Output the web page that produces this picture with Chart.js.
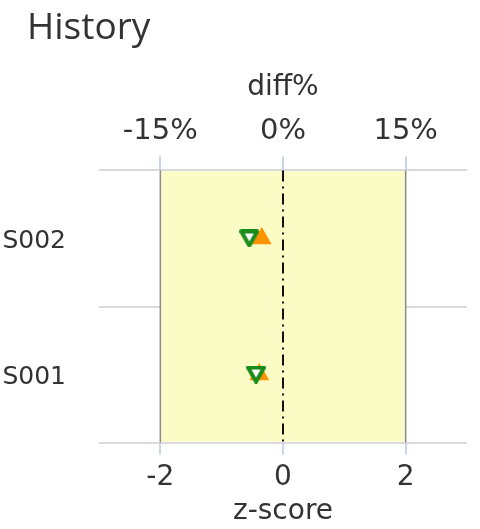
<!DOCTYPE html>
<html>
<head>
<meta charset="utf-8">
<script src="https://cdn.jsdelivr.net/npm/chart.js@4/dist/chart.umd.min.js"></script>
<style>
  html, body { margin: 0; padding: 0; background: #fff; }
  #wrap { position: relative; width: 480px; height: 529px; }
  #title { position: absolute; left: 27px; top: 0px; font-family: 'Open Sans', sans-serif; font-size: 37px; color: #333; line-height: 50px; }
  canvas { position: absolute; left: 0; top: 0; }
</style>
</head>
<body>
<div id="wrap">
  <canvas id="c" width="480" height="529"></canvas>
  <div id="title">History</div>
</div>
<script>
const categories = ['S002', 'S001'];
const zScores = [-0.55, -0.44];       // green open down-triangles (bottom axis)
const diffPct = [-2.6, -2.9];         // orange up-triangles (top axis, %)
const zTicks = [-2, 0, 2];
const pctTicks = [-15, 0, 15];
const zRange = [-3, 3];
const pctRange = [-22.5, 22.5];
const bandRange = [-2, 2];

const FONT = "'DejaVu Sans', sans-serif";

// marker image: open down-triangle, centred on its bounding box
function downTriangle() {
  const cv = document.createElement('canvas');
  cv.width = 20; cv.height = 18;
  const g = cv.getContext('2d');
  g.beginPath();
  g.moveTo(2, 2); g.lineTo(18, 2); g.lineTo(10, 16); g.closePath();
  g.fillStyle = '#ffffff'; g.fill();
  g.lineWidth = 4; g.lineJoin = 'round'; g.strokeStyle = '#1a8c1a'; g.stroke();
  return cv;
}

const bandPlugin = {
  id: 'band',
  beforeDatasetsDraw(chart) {
    const { ctx, chartArea, scales } = chart;
    const x = scales.x;
    const x0 = x.getPixelForValue(bandRange[0]);
    const x1 = x.getPixelForValue(bandRange[1]);
    ctx.save();
    ctx.fillStyle = '#fbfcc5';
    ctx.fillRect(x0, chartArea.top + 1, x1 - x0, chartArea.bottom - chartArea.top - 2);
    ctx.strokeStyle = '#8a8a8a';
    ctx.lineWidth = 1.5;
    ctx.beginPath();
    ctx.moveTo(x0, chartArea.top); ctx.lineTo(x0, chartArea.bottom);
    ctx.moveTo(x1, chartArea.top); ctx.lineTo(x1, chartArea.bottom);
    ctx.stroke();
    const xz = x.getPixelForValue(0);
    ctx.strokeStyle = '#111';
    ctx.lineWidth = 2;
    ctx.setLineDash([11, 5, 2, 5]);
    ctx.beginPath();
    ctx.moveTo(xz, chartArea.top); ctx.lineTo(xz, chartArea.bottom);
    ctx.stroke();
    ctx.restore();
  }
};

new Chart(document.getElementById('c'), {
  type: 'scatter',
  data: {
    labels: categories,
    datasets: [
      {
        label: 'z-score',
        data: categories.map((c, i) => ({ x: zScores[i], y: c })),
        xAxisID: 'x',
        yAxisID: 'y',
        pointStyle: downTriangle(),
        pointRadius: 9
      },
      {
        label: 'diff%',
        data: categories.map((c, i) => ({ x: diffPct[i], y: c })),
        xAxisID: 'x2',
        yAxisID: 'y',
        pointStyle: 'triangle',
        pointRadius: 11.5,
        backgroundColor: '#ff9200',
        borderColor: '#ff9200',
        borderWidth: 0
      }
    ]
  },
  options: {
    responsive: false,
    animation: false,
    layout: { padding: { top: 71, right: 13, left: 0, bottom: 6 } },
    plugins: { legend: { display: false }, tooltip: { enabled: false } },
    scales: {
      y: {
        type: 'category',
        labels: categories,
        offset: true,
        afterFit(scale) { scale.width = 99; },
        grid: { offset: true, color: '#dadada', lineWidth: 2, drawTicks: false },
        border: { display: false },
        ticks: { padding: 33, labelOffset: 3, color: '#333', font: { family: FONT, size: 25 } }
      },
      x: {
        type: 'linear',
        position: 'bottom',
        min: zRange[0], max: zRange[1],
        afterBuildTicks(scale) { scale.ticks = zTicks.map(v => ({ value: v })); },
        grid: { drawOnChartArea: false, drawTicks: true, tickLength: 12, color: '#c9d5e6', lineWidth: 2 },
        border: { display: false },
        ticks: { padding: 9, color: '#333', font: { family: FONT, size: 28, lineHeight: 1.0 } },
        title: { display: true, text: 'z-score', color: '#333', padding: { top: 0, bottom: 0 }, font: { family: FONT, size: 28, lineHeight: 0.8 } }
      },
      x2: {
        type: 'linear',
        position: 'top',
        min: pctRange[0], max: pctRange[1],
        afterBuildTicks(scale) { scale.ticks = pctTicks.map(v => ({ value: v })); },
        grid: { drawOnChartArea: false, drawTicks: true, tickLength: 14, color: '#c9d5e6', lineWidth: 2 },
        border: { display: false },
        ticks: { padding: 8, color: '#333', font: { family: FONT, size: 29 }, callback: v => v + '%' },
        title: { display: true, text: 'diff%', color: '#333', padding: { top: 0, bottom: 1 }, font: { family: FONT, size: 28 } }
      }
    }
  },
  plugins: [bandPlugin]
});
</script>
</body>
</html>
